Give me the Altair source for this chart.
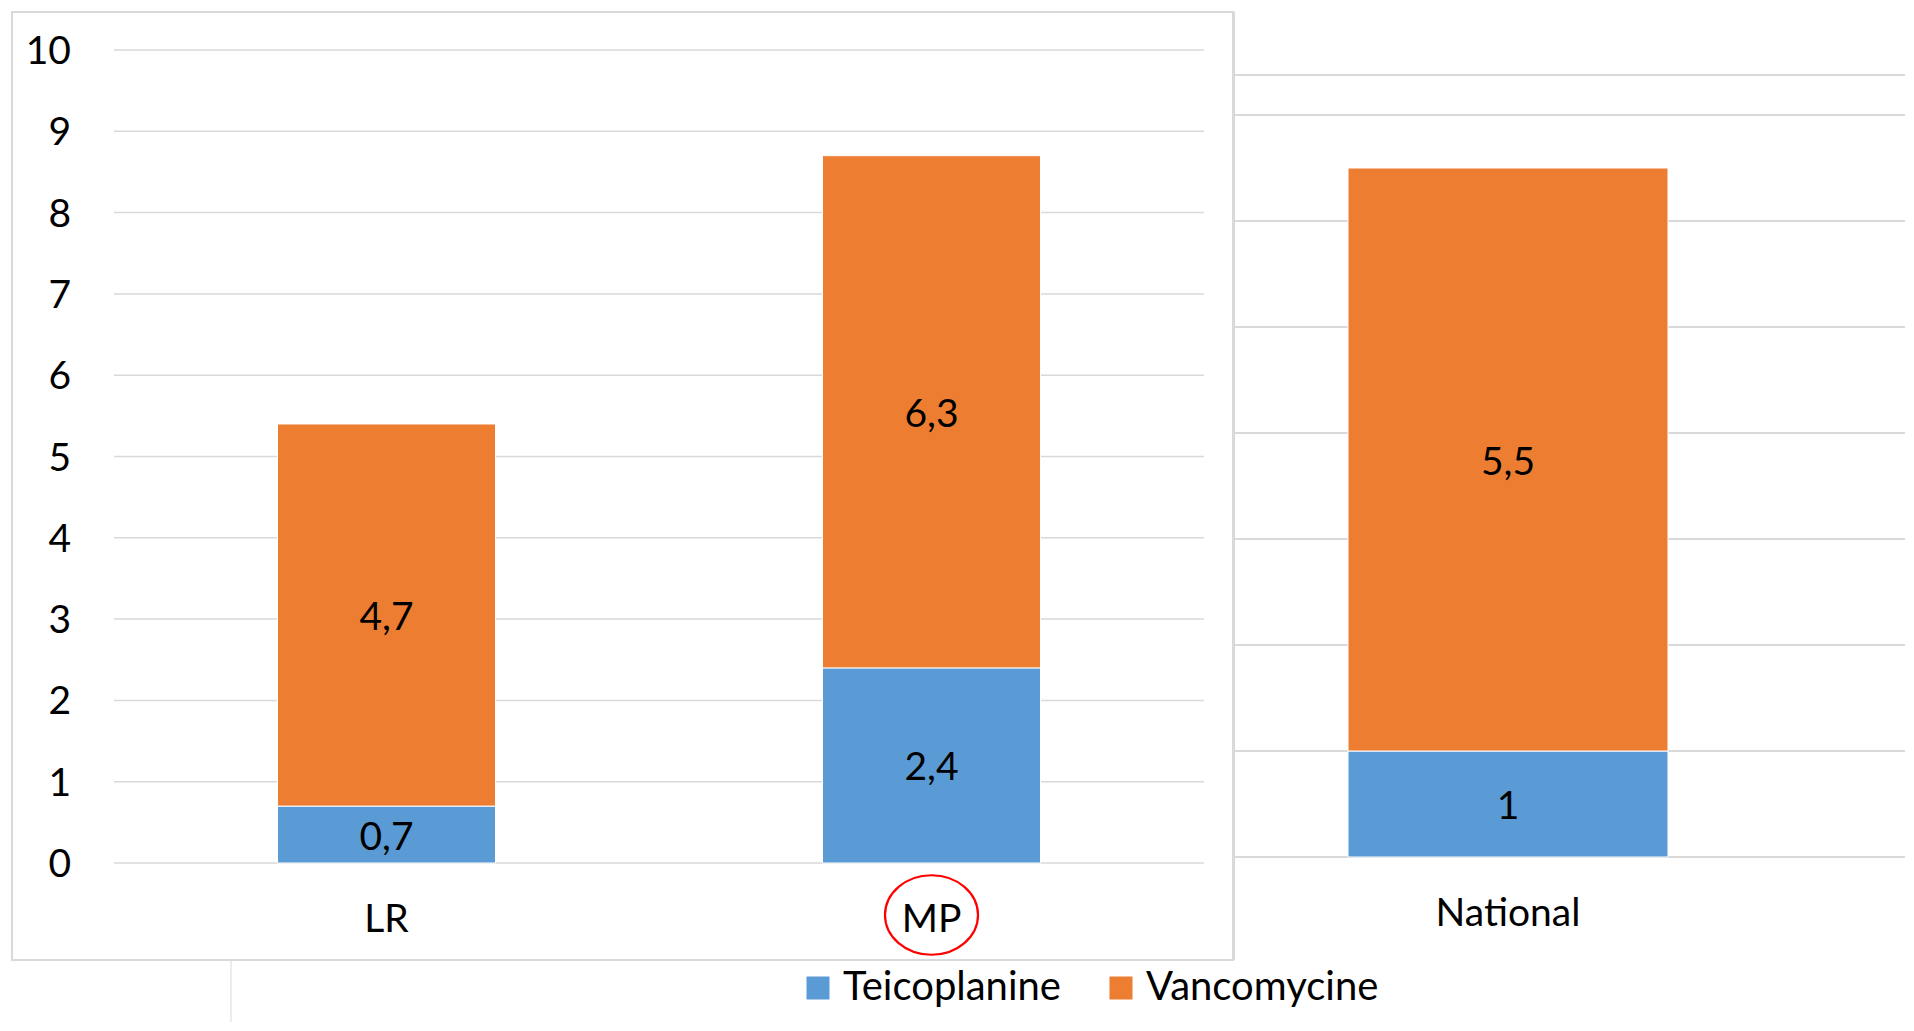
import altair as alt
import pandas as pd

# ---- data ----
regions = ["LR", "MP", "National"]
teicoplanine = [0.7, 2.4, 1.0]
vancomycine = [4.7, 6.3, 5.5]
series_names = ["Teicoplanine", "Vancomycine"]
series_colors = ["#5B9BD5", "#ED7D31"]
left_ticks = [0, 1, 2, 3, 4, 5, 6, 7, 8, 9, 10]
right_ticks = [0, 1, 2, 3, 4, 5, 6, 7]
highlight = ["MP"]

FONT = "Lato"
FS = 39
GRID = "#D9D9D9"


def fmt(v):
    return f"{v:g}".replace(".", ",")


rows = []
for r, t, v in zip(regions, teicoplanine, vancomycine):
    rows.append(dict(region=r, series=series_names[0], start=0.0, top=t, mid=t / 2, label=fmt(t)))
    rows.append(dict(region=r, series=series_names[1], start=t, top=t + v, mid=t + v / 2, label=fmt(v)))
df = pd.DataFrame(rows)
left_df = df[df.region != "National"]
right_df = df[df.region == "National"]
left_regions = [r for r in regions if r != "National"]
right_regions = ["National"]

lt_df = pd.DataFrame({"tick": left_ticks, "lab": [str(t) for t in left_ticks]})
rt_df = pd.DataFrame({"tick": right_ticks})
lab_left = pd.DataFrame({"region": left_regions})
lab_right = pd.DataFrame({"region": right_regions})
hl_df = pd.DataFrame({"region": highlight})
one = pd.DataFrame({"k": [0]})


def xl():
    return alt.X("region:N", axis=None,
                 scale=alt.Scale(domain=left_regions, range=[106, 1196],
                                 paddingInner=0.6, paddingOuter=0.3))


def xr():
    return alt.X("region:N", axis=None,
                 scale=alt.Scale(domain=right_regions, range=[1340, 1660],
                                 paddingInner=0, paddingOuter=0))


def yl(field):
    return alt.Y(f"{field}:Q", axis=None,
                 scale=alt.Scale(domain=[0, 10], range=[855, 42], nice=False, zero=False))


def yr(field):
    return alt.Y(f"{field}:Q", axis=None,
                 scale=alt.Scale(domain=[0, 7], range=[849, 107], nice=False, zero=False))


legend = alt.Legend(orient="none", legendX=790, legendY=960, direction="horizontal",
                    title=None, symbolType="square", symbolSize=529, symbolStrokeWidth=0,
                    labelFont=FONT, labelFontSize=40, labelColor="black", labelLimit=500,
                    labelOffset=5, columnPadding=40, padding=0)
color = alt.Color("series:N", scale=alt.Scale(domain=series_names, range=series_colors),
                  legend=legend)

# frame and decorative lines
frame = alt.Chart(one).mark_rect(fillOpacity=0, stroke=GRID, strokeWidth=2).encode(
    x=alt.value(4), x2=alt.value(1225), y=alt.value(4), y2=alt.value(952))
vline = alt.Chart(one).mark_rule(color=GRID, strokeWidth=2).encode(
    x=alt.value(1226), y=alt.value(4), y2=alt.value(952))
topline = alt.Chart(one).mark_rule(color=GRID, strokeWidth=2).encode(
    x=alt.value(1226), x2=alt.value(1906), y=alt.value(67))
stub = alt.Chart(one).mark_rule(color=GRID, strokeWidth=1).encode(
    x=alt.value(223), y=alt.value(952), y2=alt.value(1023))

# left panel
grid_l = alt.Chart(lt_df).mark_rule(color=GRID, strokeWidth=1.5).encode(
    y=yl("tick"), x=alt.value(106), x2=alt.value(1196))
ticklab_l = alt.Chart(lt_df).mark_text(font=FONT, fontSize=FS, color="black",
                                       align="right", baseline="middle", dy=2).encode(
    y=yl("tick"), x=alt.value(63), text="lab:N")
bars_l = alt.Chart(left_df).mark_bar(stroke="white", strokeWidth=1).encode(
    x=xl(), y=yl("start"), y2="top:Q", color=color)
vals_l = alt.Chart(left_df).mark_text(font=FONT, fontSize=FS, color="black",
                                      baseline="middle", dy=3).encode(
    x=xl(), y=yl("mid"), text="label:N")
xlab_l = alt.Chart(lab_left).mark_text(font=FONT, fontSize=FS, color="black",
                                       baseline="middle", dy=2).encode(
    x=xl(), y=alt.value(910), text="region:N")
ring = alt.Chart(hl_df).mark_point(
    shape="M -1.17 0 A 1.17 1 0 1 0 1.17 0 A 1.17 1 0 1 0 -1.17 0 Z",
    size=6320, filled=False, color="#FF0000", strokeWidth=2.2, opacity=1).encode(
    x=xl(), y=alt.value(907))

# right panel
grid_r = alt.Chart(rt_df).mark_rule(color=GRID, strokeWidth=2).encode(
    y=yr("tick"), x=alt.value(1226), x2=alt.value(1900))
bars_r = alt.Chart(right_df).mark_bar(stroke="white", strokeWidth=1).encode(
    x=xr(), y=yr("start"), y2="top:Q", color=color)
vals_r = alt.Chart(right_df).mark_text(font=FONT, fontSize=FS, color="black",
                                       baseline="middle", dy=3).encode(
    x=xr(), y=yr("mid"), text="label:N")
xlab_r = alt.Chart(lab_right).mark_text(font=FONT, fontSize=FS, color="black",
                                        baseline="middle", dy=2).encode(
    x=xr(), y=alt.value(904), text="region:N")

chart = alt.layer(
    frame, vline, topline, stub,
    grid_l, ticklab_l, bars_l, vals_l, xlab_l, ring,
    grid_r, bars_r, vals_r, xlab_r,
).resolve_scale(x="independent", y="independent").properties(
    width=1897, height=1014, padding=0,
    autosize=alt.AutoSizeParams(type="none"),
).configure_view(stroke=None)

chart.save("out.html", embed_options={"renderer": "svg", "actions": False})
